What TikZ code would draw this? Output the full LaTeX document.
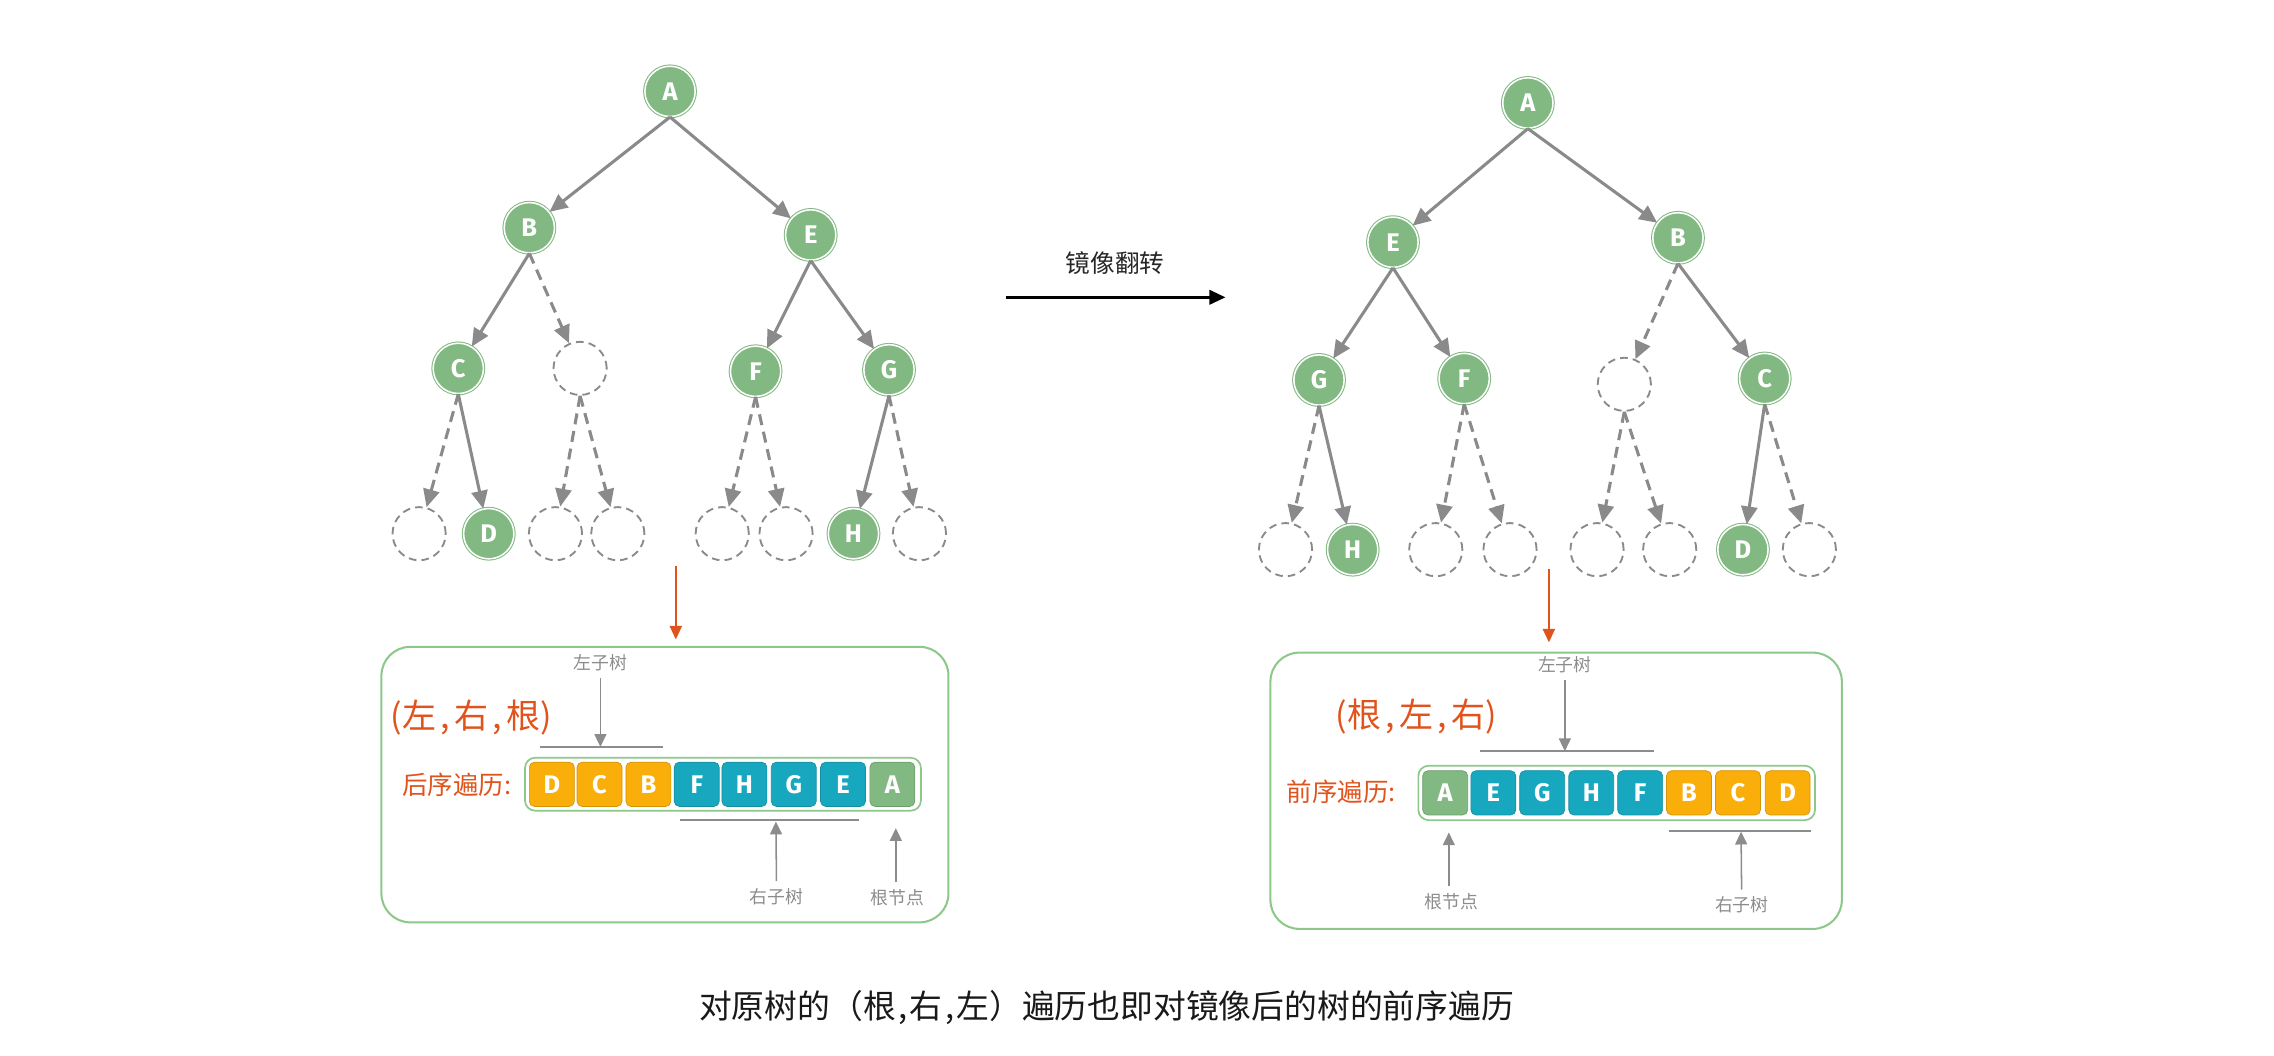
\documentclass[tikz,border=0pt]{standalone}
\usepackage{fontspec}
\setmainfont{Noto Sans CJK SC}
\newfontfamily\letterfont{Fira Sans}
\usetikzlibrary{arrows.meta}
\definecolor{ngreen}{HTML}{82B882}
\definecolor{egray}{HTML}{8A8A8A}
\definecolor{corange}{HTML}{F9AE0A}
\definecolor{cteal}{HTML}{17A8BF}
\definecolor{torange}{HTML}{E0531C}
\definecolor{bgreen}{HTML}{8DC88B}
\definecolor{lgray}{HTML}{8C8C8C}
\newcommand{\cm}{\hspace{0.09cm},\hspace{0.09cm}}
\begin{document}
\begin{tikzpicture}[x=0.03cm,y=-0.03cm,
 tn/.style={circle,fill=ngreen,draw=ngreen,double=white,double distance=0.9pt,line width=0.6pt,minimum size=1.04cm,inner sep=0pt,text=white,font=\letterfont\bfseries\fontsize{15}{15}\selectfont},
 en/.style={circle,draw=egray,line width=1.1pt,dash pattern=on 4.5pt off 3pt,minimum size=1.1cm,inner sep=0pt},
 ed/.style={draw=egray,line width=1.8pt,-{Triangle[length=10.5pt,width=9.5pt]}},
 edd/.style={ed,dash pattern=on 6.5pt off 4pt},
 cell/.style={rounded corners=3pt,minimum width=0.93cm,minimum height=0.915cm,inner sep=0pt,text=white,font=\letterfont\bfseries\fontsize{15}{15}\selectfont,draw=#1!85!black,fill=#1,line width=0.4pt},
 arr/.style={draw=bgreen,line width=1pt,rounded corners=6pt},
 frame/.style={draw=bgreen,line width=1.2pt,rounded corners=17pt},
 ord/.style={text=torange,font=\fontsize{20}{22}\selectfont,inner sep=0pt},
 tname/.style={text=torange,font=\fontsize{15}{16}\selectfont,inner sep=0pt},
 small/.style={text=lgray,font=\fontsize{10.5}{12}\selectfont,inner sep=1pt},
 ann/.style={draw=lgray,line width=0.9pt,-{Triangle[length=7.5pt,width=7pt]}},
 brk/.style={draw=lgray,line width=1pt},
 oarr/.style={draw=torange,line width=1.5pt,-{Triangle[length=8pt,width=7pt]}}
]
\useasboundingbox (0,0) rectangle (1568,728);

% ---------- left tree ----------
\node[tn] (lA) at (462,63) {A};
\node[tn] (lB) at (365,157) {B};
\node[tn] (lE) at (559,162) {E};
\node[tn] (lC) at (316,254) {C};
\node[en] (lx0) at (400,254) {};
\node[tn] (lF) at (521,256) {F};
\node[tn] (lG) at (613,255) {G};
\node[en] (lx1) at (289,368) {};
\node[tn] (lD) at (337,368) {D};
\node[en] (lx2) at (383,368) {};
\node[en] (lx3) at (426,368) {};
\node[en] (lx4) at (498,368) {};
\node[en] (lx5) at (542,368) {};
\node[tn] (lH) at (588.5,368) {H};
\node[en] (lx6) at (634,368) {};

\draw[ed] (lA.south) -- (lB);
\draw[ed] (lA.south) -- (lE);
\draw[ed] (lB.south) -- (lC);
\draw[edd] (lB.south) -- (lx0);
\draw[ed] (lE.south) -- (lF);
\draw[ed] (lE.south) -- (lG);
\draw[edd] (lC.south) -- (lx1);
\draw[ed] (lC.south) -- (lD);
\draw[edd] (lx0.south) -- (lx2);
\draw[edd] (lx0.south) -- (lx3);
\draw[edd] (lF.south) -- (lx4);
\draw[edd] (lF.south) -- (lx5);
\draw[ed] (lG.south) -- (lH);
\draw[edd] (lG.south) -- (lx6);

% ---------- right tree ----------
\node[tn] (rA) at (1053.5,71) {A};
\node[tn] (rE) at (960.5,167) {E};
\node[tn] (rB) at (1157,164) {B};
\node[tn] (rG) at (909.5,262) {G};
\node[tn] (rF) at (1009.6,261) {F};
\node[en] (rx0) at (1120,265) {};
\node[tn] (rC) at (1216.8,261) {C};
\node[en] (rx1) at (886.4,379) {};
\node[tn] (rH) at (932.7,379) {H};
\node[en] (rx2) at (990,379) {};
\node[en] (rx3) at (1041.2,379) {};
\node[en] (rx4) at (1101.2,379) {};
\node[en] (rx5) at (1151.3,379) {};
\node[tn] (rD) at (1201.8,379) {D};
\node[en] (rx6) at (1247.6,379) {};

\draw[ed] (rA.south) -- (rE);
\draw[ed] (rA.south) -- (rB);
\draw[ed] (rE.south) -- (rG);
\draw[ed] (rE.south) -- (rF);
\draw[edd] (rB.south) -- (rx0);
\draw[ed] (rB.south) -- (rC);
\draw[edd] (rG.south) -- (rx1);
\draw[ed] (rG.south) -- (rH);
\draw[edd] (rF.south) -- (rx2);
\draw[edd] (rF.south) -- (rx3);
\draw[edd] (rx0.south) -- (rx4);
\draw[edd] (rx0.south) -- (rx5);
\draw[ed] (rC.south) -- (rD);
\draw[edd] (rC.south) -- (rx6);

% ---------- mirror arrow ----------
\node[font=\fontsize{14.5}{16}\selectfont,text=black!85] (mlab) at (769,181.5) {镜像翻转};
\coordinate (m1) at (694,205);
\coordinate (m2) at (845,205);
\draw[line width=1.6pt,-{Triangle[length=9.5pt,width=8.5pt]}] (m1) -- (m2);

% ---------- orange arrows ----------
\coordinate (oa1) at (466,390);
\coordinate (oa2) at (466,441);
\draw[oarr] (oa1) -- (oa2);
\coordinate (ob1) at (1068,392);
\coordinate (ob2) at (1068,443);
\draw[oarr] (ob1) -- (ob2);

% ---------- left box ----------
\draw[frame] (263,446) rectangle (654,636);
\node[ord] (lord) at (325,495) {(左\cm 右\cm 根)};
\node[tname] (lname) at (315,541) {后序遍历:};
\draw[arr] (362,522.5) rectangle (635,559);
\node[cell=corange] (lc1) at (380.5,540.8) {D};
\node[cell=corange] (lc2) at (413.4,540.8) {C};
\node[cell=corange] (lc3) at (447.1,540.8) {B};
\node[cell=cteal] (lc4) at (480.4,540.8) {F};
\node[cell=cteal] (lc5) at (513.3,540.8) {H};
\node[cell=cteal] (lc6) at (547.3,540.8) {G};
\node[cell=cteal] (lc7) at (581.3,540.8) {E};
\node[cell=ngreen] (lc8) at (615.3,540.8) {A};

\node[small] (lls) at (414,456.7) {左子树};
\coordinate (llsE) at (414,515);
\draw[ann,shorten <=3pt] (lls) -- (llsE);
\draw[brk] (372,515) -- (457,515);
\draw[brk] (469,565.5) -- (592.5,565.5);
\node[small] (lrs) at (535.5,618) {右子树};
\coordinate (lrsE) at (535,566.5);
\draw[ann,shorten <=3pt] (lrs) -- (lrsE);
\node[small] (lrt) at (618.6,619) {根节点};
\coordinate (lrtE) at (617.7,571);
\draw[ann,shorten <=3pt] (lrt.north -| lrtE) -- (lrtE);

% ---------- right box ----------
\draw[frame] (876,450) rectangle (1270,640.5);
\node[ord] (rord) at (976.5,494) {(根\cm 左\cm 右)};
\node[tname] (rname) at (925,546) {前序遍历:};
\draw[arr] (978,528) rectangle (1251.5,565.5);
\node[cell=ngreen] (rc1) at (996.5,546.7) {A};
\node[cell=cteal] (rc2) at (1029.7,546.7) {E};
\node[cell=cteal] (rc3) at (1063.4,546.7) {G};
\node[cell=cteal] (rc4) at (1097.2,546.7) {H};
\node[cell=cteal] (rc5) at (1130.9,546.7) {F};
\node[cell=corange] (rc6) at (1164.6,546.7) {B};
\node[cell=corange] (rc7) at (1198.4,546.7) {C};
\node[cell=corange] (rc8) at (1232.6,546.7) {D};

\node[small] (rls) at (1079,458.5) {左子树};
\coordinate (rlsE) at (1079,518);
\draw[ann,shorten <=3pt] (rls) -- (rlsE);
\draw[brk] (1020.5,518) -- (1140.6,518);
\draw[brk] (1151,572.8) -- (1249,572.8);
\node[small] (rrs) at (1201,624) {右子树};
\coordinate (rrsE) at (1200.5,573.5);
\draw[ann,shorten <=3pt] (rrs) -- (rrsE);
\node[small] (rrt) at (1000.8,621.8) {根节点};
\coordinate (rrtE) at (999,574);
\draw[ann,shorten <=3pt] (rrt.north -| rrtE) -- (rrtE);

% ---------- caption ----------
\node[font=\fontsize{19.3}{21}\selectfont,text=black!90] (cap) at (763,695) {对原树的（根\hspace{0.05cm},\hspace{0.05cm}右\hspace{0.05cm},\hspace{0.05cm}左）遍历也即对镜像后的树的前序遍历};
\end{tikzpicture}
\end{document}
